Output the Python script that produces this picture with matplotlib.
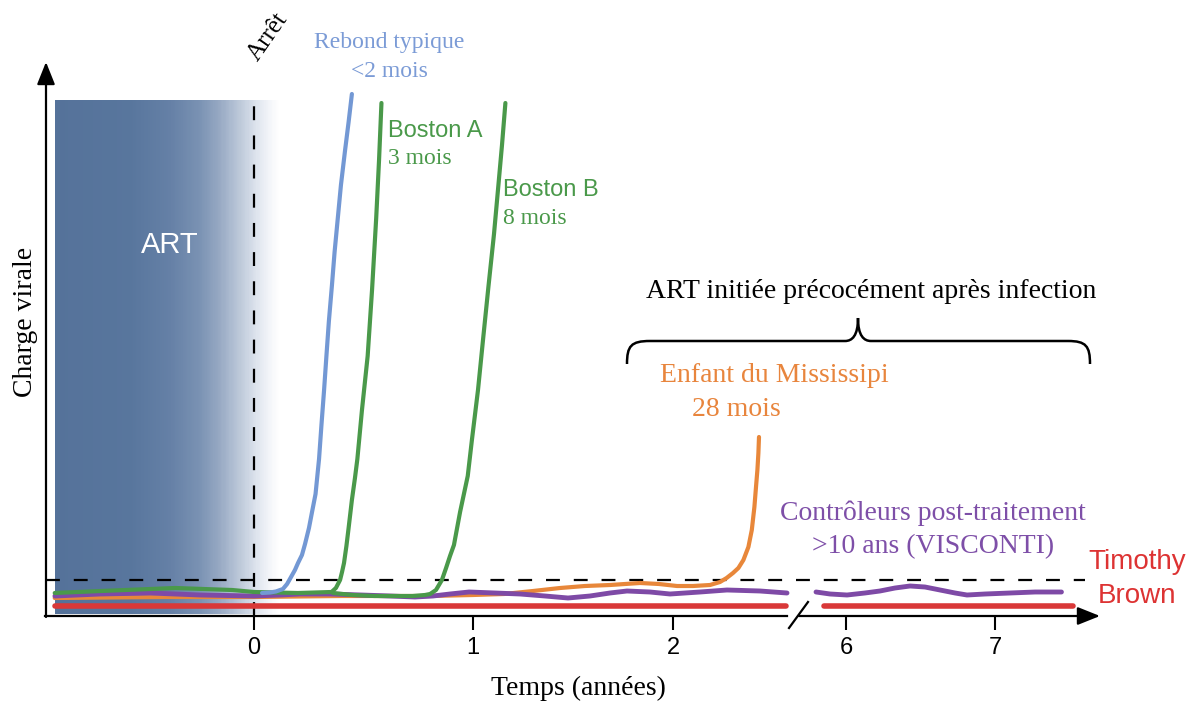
import numpy as np
import matplotlib.pyplot as plt
from matplotlib.colors import LinearSegmentedColormap
from matplotlib.path import Path
from matplotlib.patches import PathPatch

plt.rcParams['lines.scale_dashes'] = False

W, H = 1199, 704
SERIF = 'Liberation Serif'
SANS = 'Liberation Sans'

# time in years after stopping ART, viral load in arbitrary units (0 = x axis)
tick_years = [0, 1, 2, 6, 7]
tick_labels = ['0', '1', '2', '6', '7']
threshold = 36

rebound_t = [0.037, 0.073, 0.100, 0.132, 0.151, 0.164, 0.187, 0.201, 0.219, 0.233, 0.251, 0.265,
             0.281, 0.297, 0.308, 0.320, 0.331, 0.342, 0.356, 0.368, 0.384, 0.397, 0.416, 0.432, 0.447]
rebound_v = [23, 23.5, 24.5, 27, 32, 37, 46, 53, 61, 72, 88, 104,
             122, 157, 191, 226, 261, 295, 331, 364, 401, 431, 466, 494, 522]

bostonA_t = [-0.91, -0.70, -0.36, -0.10, 0.0, 0.20, 0.354, 0.374, 0.393, 0.402, 0.411, 0.422,
             0.432, 0.447, 0.461, 0.472, 0.493, 0.519, 0.539, 0.558, 0.571, 0.582]
bostonA_v = [23, 25, 28, 26, 24, 23, 24, 28, 36, 44, 53, 70,
             88, 116, 138, 157, 206, 260, 326, 398, 456, 513]

bostonB_t = [0.36, 0.45, 0.55, 0.65, 0.724, 0.781, 0.804, 0.831, 0.858, 0.877, 0.895, 0.913,
             0.941, 0.976, 0.995, 1.025, 1.05, 1.077, 1.105, 1.128, 1.145, 1.162]
bostonB_v = [23, 21, 20, 20, 20, 21, 22, 26, 36, 48, 60, 71,
             104, 140, 176, 226, 276, 329, 382, 433, 471, 513]

miss_t = [-0.91, -0.40, 0.0, 0.40, 0.80, 1.0, 1.155, 1.30, 1.435, 1.56, 1.685, 1.835, 1.93, 2.02,
          2.10, 2.185, 2.235, 2.268, 2.30, 2.327, 2.352, 2.377, 2.394, 2.407, 2.415, 2.422, 2.427, 2.43]
miss_v = [18, 19, 19, 20, 20, 21, 22, 25, 28, 30, 31, 33, 32, 30,
          30, 31, 34, 38, 43, 48, 56, 69, 86, 109, 129, 146, 163, 179]

visc_t1 = [-0.909, -0.703, -0.475, -0.247, 0.0, 0.119, 0.210, 0.347, 0.489, 0.621, 0.735, 0.817,
           0.895, 0.982, 1.11, 1.235, 1.36, 1.475, 1.585, 1.685, 1.77, 1.885, 1.985, 2.135, 2.27,
           2.435, 2.57]
visc_v1 = [20, 22, 23, 21, 20, 21, 22, 22, 21, 20, 19, 20,
           22, 24, 23, 22, 20, 18, 20, 23, 25, 24, 22, 24, 26,
           25, 23]
visc_t2 = [5.797, 5.892, 6.007, 6.127, 6.228, 6.329, 6.43, 6.53, 6.631, 6.732, 6.812, 6.933,
           7.1, 7.268, 7.443]
visc_v2 = [24, 22, 21, 23, 25, 28, 30, 29, 26, 23, 21, 22,
           23, 24, 24]

brown_t1 = [-0.91, 2.565]
brown_t2 = [5.85, 7.52]
brown_v = [10, 10]

art_start, art_fade_end = -0.91, 0.12
art_top = 516

# schematic, broken time axis: years -> horizontal pixel position
yr_knots = [-1.2, 0, 1, 2, 2.57, 5.79, 6, 7, 8.4]
px_knots = [-8.8, 254, 473, 673, 787, 815, 846, 995, 1205]


def fwd(x):
    return np.interp(x, yr_knots, px_knots)


def inv(p):
    return np.interp(p, px_knots, yr_knots)


fig = plt.figure(figsize=(W / 100, H / 100), dpi=100)
ax = fig.add_axes([46 / W, 1 - 616 / H, (1100 - 46) / W, (616 - 62) / H])
ax.set_xscale('function', functions=(fwd, inv))
ax.set_xlim(inv(46), inv(1100))
ax.set_ylim(0, 554)
for s in ax.spines.values():
    s.set_visible(False)
ax.set_yticks([])
ax.set_xticks(tick_years)
ax.set_xticklabels(tick_labels, fontfamily=SANS, fontsize=17)
ax.tick_params(axis='x', direction='out', length=10, width=1.5, pad=5)
ax.set_xlabel('Temps (années)', fontfamily=SERIF, fontsize=20)
ax.set_ylabel('Charge virale', fontfamily=SERIF, fontsize=20)
ax.xaxis.set_label_coords(0.5047, -0.108)
ax.yaxis.set_label_coords(-0.008, 0.531)

# ART block fading into white
art_cmap = LinearSegmentedColormap.from_list('art', [
    (0.0, '#55729a'), (0.333, '#58769d'), (0.511, '#6580a6'), (0.644, '#7a92b3'),
    (0.733, '#97a9c3'), (0.822, '#bcc8d9'), (0.902, '#dfe5ee'), (0.956, '#f3f5f9'), (1.0, '#ffffff')])
xe = np.linspace(art_start, art_fade_end, 200)
ax.pcolormesh(xe, [2, art_top], np.linspace(0, 1, 199)[None, :], cmap=art_cmap,
              shading='flat', zorder=1, rasterized=True)

ax.plot([inv(46), inv(1085)], [threshold, threshold], color='black', lw=1.6,
        dashes=(10, 10), zorder=2)
ax.plot([0, 0], [0, 524], color='black', lw=1.6, dashes=(10, 11), zorder=2)

kw = dict(solid_capstyle='round', solid_joinstyle='round')
ax.plot(brown_t1, brown_v, color='#d93838', lw=4, zorder=3, **kw)
ax.plot(brown_t2, brown_v, color='#d93838', lw=4, zorder=3, **kw)
ax.plot(miss_t, miss_v, color='#e8873a', lw=3, zorder=4, **kw)
ax.plot(visc_t1, visc_v1, color='#7e4aa6', lw=3.5, zorder=5, **kw)
ax.plot(visc_t2, visc_v2, color='#7e4aa6', lw=3.5, zorder=5, **kw)
ax.plot(bostonA_t, bostonA_v, color='#4a994a', lw=3, zorder=6, **kw)
ax.plot(bostonB_t, bostonB_v, color='#4a994a', lw=3, zorder=6, **kw)
ax.plot(rebound_t, rebound_v, color='#7398d4', lw=3, zorder=7, **kw)

# overlay in pixel coordinates for arrows, brace and labels
ov = fig.add_axes([0, 0, 1, 1])
ov.set_xlim(0, W)
ov.set_ylim(H, 0)
ov.axis('off')

arrow = dict(arrowstyle='-|>,head_length=0.55,head_width=0.22', lw=1.6, color='black',
             shrinkA=0, shrinkB=0, mutation_scale=25)
ov.annotate('', xy=(46, 62), xytext=(46, 617), arrowprops=arrow)
ov.annotate('', xy=(1100, 616), xytext=(799, 616), arrowprops=arrow)
ov.plot([45, 787], [616, 616], color='black', lw=1.6)
ov.plot([789, 808], [628, 602], color='black', lw=1.6)

verts = [(627, 364), (627, 346), (631, 341), (650, 341),
         (845, 341), (852, 341), (858, 336), (858, 318),
         (858, 336), (864, 341), (871, 341),
         (1068, 341), (1086, 341), (1090, 346), (1090, 364)]
codes = [Path.MOVETO, Path.CURVE4, Path.CURVE4, Path.CURVE4,
         Path.LINETO, Path.CURVE4, Path.CURVE4, Path.CURVE4,
         Path.CURVE4, Path.CURVE4, Path.CURVE4,
         Path.LINETO, Path.CURVE4, Path.CURVE4, Path.CURVE4]
ov.add_patch(PathPatch(Path(verts, codes), fill=False, lw=1.8, edgecolor='black'))


def label(x, y, s, **k):
    ov.text(x, y, s, ha=k.pop('ha', 'center'), va='center', **k)


label(170, 245, 'ART', color='white', fontfamily=SANS, fontsize=21)
label(268, 37, 'Arrêt', rotation=55, fontfamily=SERIF, fontsize=18)
label(389, 57, 'Rebond typique\n<2 mois', color='#7b9bd6', fontfamily=SERIF, fontsize=17,
      linespacing=1.45)
label(388, 131, 'Boston A', ha='left', color='#4a994a', fontfamily=SANS, fontsize=17)
label(388, 158, '3 mois', ha='left', color='#4a994a', fontfamily=SERIF, fontsize=17)
label(503, 190, 'Boston B', ha='left', color='#4a994a', fontfamily=SANS, fontsize=17)
label(503, 218, '8 mois', ha='left', color='#4a994a', fontfamily=SERIF, fontsize=17)
label(871, 292, 'ART initiée précocément après infection', fontfamily=SERIF, fontsize=20)
label(774, 375, 'Enfant du Mississipi', color='#e8853d', fontfamily=SERIF, fontsize=20)
label(736, 410, '28 mois', color='#e8853d', fontfamily=SERIF, fontsize=20)
label(933, 530, 'Contrôleurs post-traitement\n>10 ans (VISCONTI)', color='#7e4fa8',
      fontfamily=SERIF, fontsize=20, linespacing=1.4)
label(1137, 579, 'Timothy\nBrown', color='#dd3333', fontfamily=SANS, fontsize=20,
      linespacing=1.4)

fig.savefig('out.png', dpi=100)
